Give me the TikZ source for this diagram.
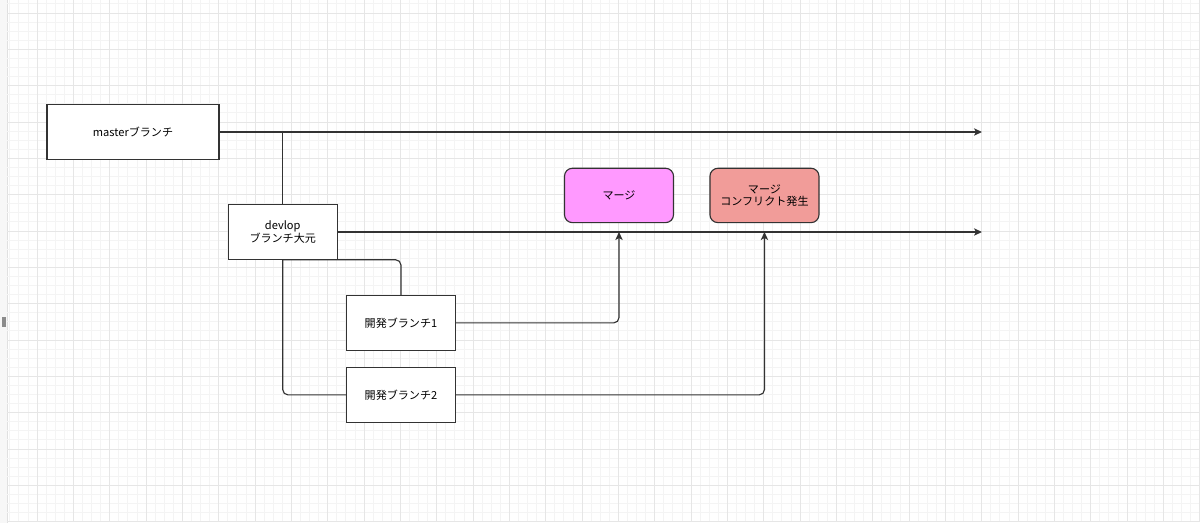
\documentclass[tikz,border=0pt]{standalone}
\usepackage{fontspec}
\setmainfont{Noto Sans CJK JP}
\usetikzlibrary{positioning,arrows.meta}
\definecolor{mergepink}{HTML}{FF99FF}
\definecolor{conflictred}{HTML}{F19C99}
\definecolor{edgegray}{HTML}{333333}
\definecolor{gridminor}{HTML}{F4F4F4}
\definecolor{gridmajor}{HTML}{E6E6E6}

\begin{document}
\begin{tikzpicture}[x=0.75pt, y=-0.75pt, on grid, line width=0.85pt,
  font=\fontsize{8.3pt}{9.3pt}\selectfont,
  branch/.style = {draw=edgegray, fill=white, minimum width=81.8pt, minimum height=40.8pt, align=center, inner sep=0pt},
  mergebox/.style = {branch, rounded corners=6pt},
  edge/.style = {draw=edgegray, rounded corners=4pt},
  arrow/.style = {edge, -{Stealth[length=6pt, width=5.5pt, inset=1.5pt]}}]
\useasboundingbox (0,0) rectangle (1200,523);
\fill[white] (0,0) rectangle (1200,523);
\fill[black!3] (0,0) rectangle (7,523);
\draw[black!12, line width=0.5pt] (7,0) -- (7,523);
\fill[black!45] (2,317) rectangle (6,327);
\foreach \i in {0,...,131} \draw[gridminor, line width=0.6pt] ({9.75+9.0833*\i},0) -- ++(0,522);
\foreach \j in {0,...,57} \draw[gridminor, line width=0.6pt] (7,{3.9+9.0833*\j}) -- (1200,{3.9+9.0833*\j});
\foreach \i in {0,...,32} \draw[gridmajor, line width=0.6pt] ({37+36.333*\i},0) -- ++(0,522);
\foreach \j in {0,...,14} \draw[gridmajor, line width=0.6pt] (7,{13+36.333*\j}) -- (1200,{13+36.333*\j});

\node[branch, minimum width=129pt] (master) at (133,132) {masterブランチ};
\node[branch] (devlop) [below right=75pt and 112.3pt of master] {devlop\\ブランチ大元};
\node[branch] (dev1) [below right=68.2pt and 88.7pt of devlop] {開発ブランチ1};
\node[branch] (dev2) [below=54pt of dev1] {開発ブランチ2};
\node[mergebox, fill=mergepink] (merge) [above right=95.6pt and 163.5pt of dev1] {マージ};
\node[mergebox, fill=conflictred] (conflict) [right=109.1pt of merge] {マージ\\コンフリクト発生};
\coordinate (masterend) at (982,132);
\coordinate (devend) at (982,232);
\coordinate (mergept) at (merge.south |- devend);
\coordinate (conflictpt) at (conflict.south |- devend);

\draw[arrow] (master.east) -- (masterend);
\draw[edge, sharp corners] (master.east) -| (devlop.north);
\draw[arrow] (devlop.east) -- (devend);
\draw[edge] (devlop.south) -| (dev1.north);
\draw[edge] (devlop.south) |- (dev2.west);
\draw[arrow] (dev1.east) -| (mergept);
\draw[arrow] (dev2.east) -| (conflictpt);
\end{tikzpicture}
\end{document}
